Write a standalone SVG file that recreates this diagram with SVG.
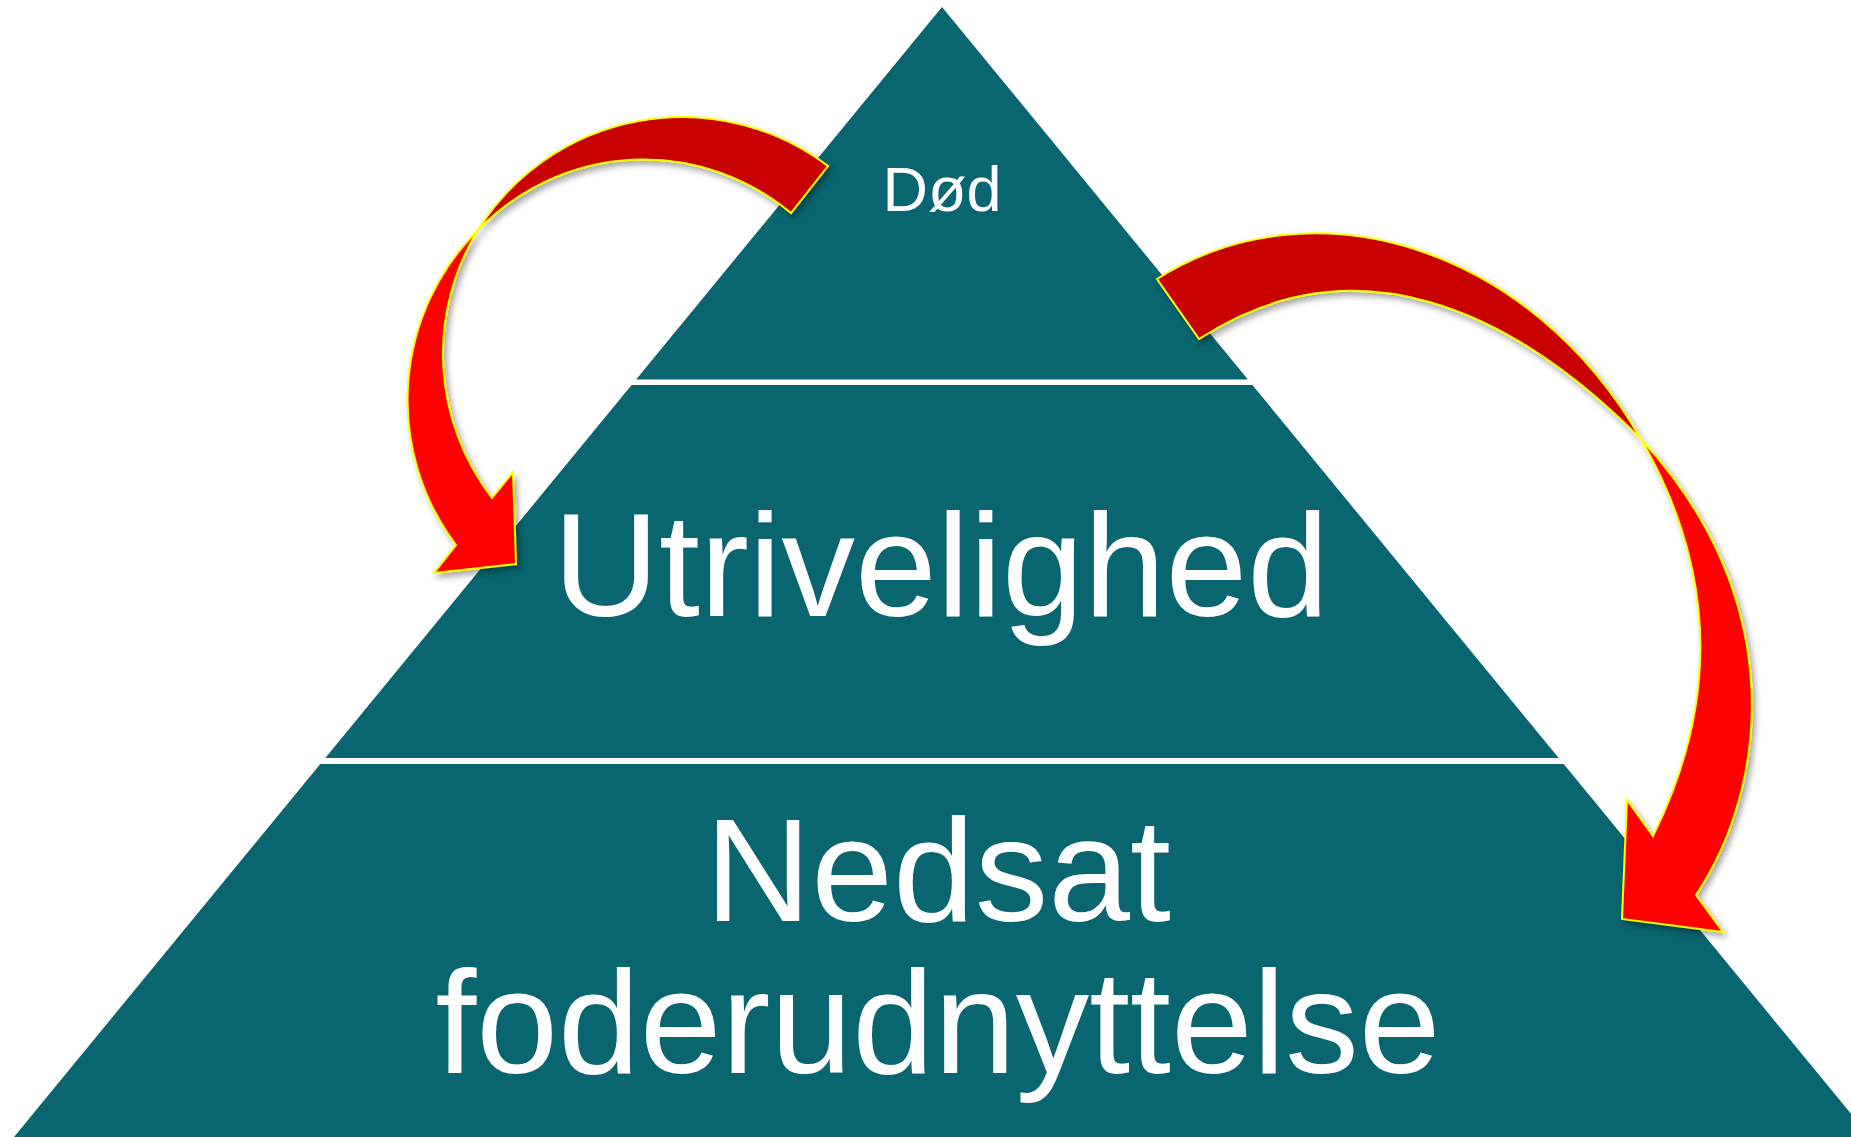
<svg xmlns="http://www.w3.org/2000/svg" width="1851" height="1137" viewBox="0 0 1851 1137">
  <style>
    .tier { fill: #09656F; }
    .label { fill: #FFFFFF; font-family: "Liberation Sans", Arial, sans-serif; text-anchor: middle; }
    .big { font-size: 147px; }
    .small { font-size: 63px; }
    .arrow { stroke: #FFFF00; stroke-width: 2; stroke-linejoin: miter; }
    .back { fill: #C80000; }
    .front { fill: #FF0000; }
  </style>
  <defs>
    <filter id="shadow" x="-10%" y="-10%" width="130%" height="130%">
      <feDropShadow dx="3" dy="4" stdDeviation="3" flood-color="#000000" flood-opacity="0.35"/>
    </filter>
  </defs>
  <rect width="1851" height="1137" fill="#FFFFFF"/>

  <g id="node-dod">
    <polygon class="tier" points="942,7 1247.9,379.5 636.1,379.5"/>
    <text class="label small" x="942" y="211">Død</text>
  </g>

  <g id="node-utrivelighed">
    <polygon class="tier" points="631.6,385 1252.4,385 1558.7,758 325.3,758"/>
    <text class="label big" x="941" y="616">Utrivelighed</text>
  </g>

  <g id="node-foderudnyttelse">
    <polygon class="tier" points="320.3,764 1563.7,764 1870,1137 14,1137"/>
    <text class="label big" x="938" y="921">Nedsat</text>
    <text class="label big" x="938" y="1073">foderudnyttelse</text>
  </g>

  <g id="connectors" filter="url(#shadow)">
    <g id="arrow-left">
      <path class="arrow back" d="M828,166 A240,238 0 0 0 478,230 A233,237.4 0 0 1 791,213 Z"/>
      <path class="arrow front" d="M478,230 A233,237.4 0 0 0 456,545 L434,573 L516,564 L513,472 L492,498 A240,238 0 0 1 478,230 Z"/>
    </g>
    <g id="arrow-right">
      <path class="arrow back" d="M1157,279 C1313,180 1530,246 1641,439 C1511,308 1354,238 1199,339 Z"/>
      <path class="arrow front" d="M1641,439 C1790,600 1768,787 1696,895 L1723,932 L1622,919 L1627,800 L1653,836 C1720,701 1716,569 1641,439 Z"/>
    </g>
  </g>
</svg>
